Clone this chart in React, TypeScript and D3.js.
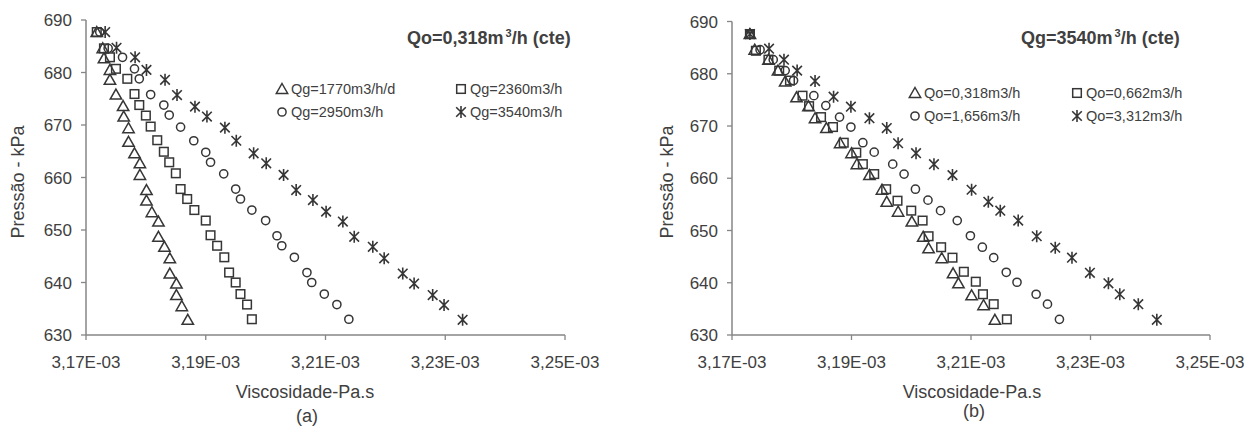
import * as d3 from "d3";
import React from "react";

// viscosity in units of 1e-3 Pa.s, pressure in kPa
const xTicks = [3.17, 3.19, 3.21, 3.23, 3.25];
const yTicks = [630, 640, 650, 660, 670, 680, 690];

// (a) Qo constant
const aQg1770X = [3.1718, 3.1728, 3.173, 3.174, 3.174, 3.175, 3.1762, 3.1763, 3.1771, 3.1771, 3.1781, 3.179, 3.179, 3.1801, 3.1801, 3.181, 3.1821, 3.1821, 3.1831, 3.184, 3.184, 3.1851, 3.1851, 3.186, 3.187];
const aQg1770Y = [687.7, 684.6, 682.7, 680.5, 678.6, 675.8, 673.6, 671.6, 669.4, 666.8, 664.6, 662.7, 660.5, 657.6, 655.6, 653.4, 651.6, 648.7, 646.8, 644.6, 641.7, 639.8, 637.6, 635.5, 632.9];
const aQg2360X = [3.1718, 3.173, 3.174, 3.175, 3.1769, 3.1781, 3.1789, 3.18, 3.1808, 3.1819, 3.183, 3.1839, 3.185, 3.1858, 3.1869, 3.1881, 3.19, 3.1908, 3.1919, 3.1931, 3.1939, 3.195, 3.1958, 3.1969, 3.1977];
const aQg2360Y = [687.7, 684.6, 682.9, 680.7, 678.8, 675.9, 673.8, 671.8, 669.7, 667.1, 664.9, 662.9, 660.8, 657.8, 655.9, 653.8, 651.8, 649.0, 647.0, 644.8, 641.9, 640.0, 637.8, 635.8, 633.0];
const aQg2950X = [3.1723, 3.1737, 3.1761, 3.1781, 3.1789, 3.1808, 3.183, 3.1839, 3.1858, 3.188, 3.19, 3.1908, 3.193, 3.195, 3.1958, 3.1977, 3.2, 3.2019, 3.2027, 3.2048, 3.2069, 3.2077, 3.2098, 3.2119, 3.2139];
const aQg2950Y = [687.7, 684.6, 682.9, 680.7, 678.8, 675.8, 673.8, 671.9, 669.6, 667.0, 664.8, 662.9, 660.7, 657.8, 655.9, 653.8, 651.8, 648.9, 647.0, 644.8, 641.9, 640.0, 637.8, 635.8, 633.0];
const aQg3540X = [3.1732, 3.1751, 3.1782, 3.1801, 3.1832, 3.1852, 3.1882, 3.1902, 3.1932, 3.1951, 3.198, 3.2001, 3.203, 3.2051, 3.2079, 3.2101, 3.2129, 3.2148, 3.2179, 3.2198, 3.2229, 3.2248, 3.2279, 3.2298, 3.2329];
const aQg3540Y = [687.7, 684.7, 682.9, 680.5, 678.6, 675.7, 673.5, 671.6, 669.5, 667.0, 664.6, 662.7, 660.5, 657.6, 655.7, 653.5, 651.6, 648.7, 646.8, 644.6, 641.7, 639.8, 637.6, 635.7, 632.9];

// (b) Qg constant
const bQo0318X = [3.173, 3.1738, 3.1761, 3.1777, 3.1789, 3.1808, 3.1828, 3.1839, 3.1858, 3.1881, 3.19, 3.1909, 3.193, 3.1951, 3.1959, 3.1978, 3.2001, 3.202, 3.2029, 3.2051, 3.207, 3.2079, 3.2101, 3.2121, 3.214];
const bQo0318Y = [687.6, 684.6, 682.7, 680.6, 678.5, 675.5, 673.8, 671.5, 669.6, 666.7, 664.8, 662.7, 660.6, 657.8, 655.5, 653.6, 651.7, 648.8, 646.6, 644.7, 641.8, 639.9, 637.6, 635.7, 632.9];
const bQo0662X = [3.173, 3.174, 3.1761, 3.1779, 3.1797, 3.1818, 3.1829, 3.1849, 3.1869, 3.1887, 3.1908, 3.1919, 3.1938, 3.1958, 3.1977, 3.2, 3.2019, 3.2029, 3.205, 3.2069, 3.2088, 3.2108, 3.212, 3.2138, 3.216];
const bQo0662Y = [687.6, 684.4, 682.7, 680.6, 678.7, 675.8, 673.8, 671.7, 669.8, 666.8, 664.9, 662.7, 660.8, 657.9, 655.7, 653.8, 651.9, 648.9, 646.8, 644.8, 642.1, 640.2, 637.8, 635.9, 633.0];
const bQo1656X = [3.173, 3.1747, 3.1769, 3.1789, 3.1803, 3.1837, 3.1857, 3.188, 3.1899, 3.1919, 3.1938, 3.1969, 3.1988, 3.2007, 3.2028, 3.2049, 3.2077, 3.2099, 3.2119, 3.2138, 3.2159, 3.2177, 3.2209, 3.2228, 3.2248];
const bQo1656Y = [687.6, 684.6, 682.7, 680.6, 678.7, 675.8, 673.9, 671.7, 669.8, 666.8, 665.0, 662.7, 660.8, 657.9, 655.8, 653.8, 651.9, 649.0, 646.8, 644.8, 642.0, 640.1, 637.8, 635.9, 633.0];
const bQo3312X = [3.173, 3.1762, 3.1787, 3.1809, 3.1839, 3.187, 3.1899, 3.193, 3.1959, 3.1978, 3.2008, 3.2038, 3.2069, 3.2101, 3.2129, 3.2149, 3.2179, 3.221, 3.2241, 3.2269, 3.2299, 3.233, 3.2349, 3.238, 3.2411];
const bQo3312Y = [687.6, 684.8, 682.7, 680.6, 678.6, 675.6, 673.7, 671.5, 669.6, 666.7, 664.8, 662.7, 660.6, 657.8, 655.5, 653.8, 651.9, 648.9, 646.7, 644.8, 641.9, 639.9, 637.8, 635.9, 632.9];

const aLabels = ["Qg=1770m3/h/d", "Qg=2360m3/h", "Qg=2950m3/h", "Qg=3540m3/h"];
const bLabels = ["Qo=0,318m3/h", "Qo=0,662m3/h", "Qo=1,656m3/h", "Qo=3,312m3/h"];

const ink = "#363636";
const axisColor = "#868686";
const textColor = "#404040";
const font = "Arial, 'Liberation Sans', sans-serif";

function Marker({ kind, x, y }) {
  if (kind === "tri")
    return <path d={`M${x},${y - 5.5}L${x + 5.7},${y + 4.5}L${x - 5.7},${y + 4.5}Z`} fill="none" stroke={ink} strokeWidth={1.5} />;
  if (kind === "sq")
    return <rect x={x - 4.3} y={y - 4.3} width={8.6} height={8.6} fill="none" stroke={ink} strokeWidth={1.5} />;
  if (kind === "circ")
    return <circle cx={x} cy={y} r={4.1} fill="none" stroke={ink} strokeWidth={1.5} />;
  return (
    <path
      d={`M${x - 4.8},${y - 4.8}L${x + 4.8},${y + 4.8}M${x - 4.8},${y + 4.8}L${x + 4.8},${y - 4.8}M${x},${y - 6}L${x},${y + 6}`}
      fill="none"
      stroke={ink}
      strokeWidth={1.6}
    />
  );
}

const kinds = ["tri", "sq", "circ", "star"];

function Panel({ left, right, top, bottom, series, labels, title, caption, legend, titlePos, titleX, yTitleX, captionY }) {
  const x = d3.scaleLinear().domain([3.17, 3.25]).range([left, right]);
  const y = d3.scaleLinear().domain([630, 690]).range([bottom, top]);
  const fmt = (v) => v.toFixed(2).replace(".", ",") + "E-03";
  return (
    <g fontFamily={font} fill={textColor}>
      <line x1={left} x2={left} y1={y(690)} y2={y(630)} stroke={axisColor} strokeWidth={1.5} />
      <line x1={left} x2={right} y1={y(630)} y2={y(630)} stroke={axisColor} strokeWidth={1.5} />
      {yTicks.map((t) => (
        <g key={t}>
          <line x1={left - 5} x2={left} y1={y(t)} y2={y(t)} stroke={axisColor} strokeWidth={1.3} />
          <text x={left - 14} y={y(t)} dy="0.36em" textAnchor="end" fontSize={17}>{t}</text>
        </g>
      ))}
      {xTicks.map((t) => (
        <g key={t}>
          <line x1={x(t)} x2={x(t)} y1={y(630)} y2={y(630) + 5} stroke={axisColor} strokeWidth={1.3} />
          <text x={x(t)} y={y(630) + 27} dy="0.36em" textAnchor="middle" fontSize={17}>{fmt(t)}</text>
        </g>
      ))}
      <text transform={`translate(${yTitleX},182) rotate(-90)`} textAnchor="middle" fontSize={18} dy="0.36em">
        Pressão - kPa
      </text>
      <text x={titleX} y={392} dy="0.36em" textAnchor="middle" fontSize={18}>Viscosidade-Pa.s</text>
      <text x={titleX + 2} y={captionY} dy="0.36em" textAnchor="middle" fontSize={18}>{caption}</text>
      <text x={titlePos[0]} y={titlePos[1]} fontSize={18} fontWeight="bold">
        {title[0]}<tspan dx="2" dy="-7" fontSize={11}>3</tspan><tspan dy="7">{title[1]}</tspan>
      </text>
      {labels.map((l, i) => {
        const lx = legend[0] + (i % 2) * legend[2];
        const ly = legend[1] + Math.floor(i / 2) * 23;
        return (
          <g key={l}>
            <Marker kind={kinds[i]} x={lx} y={ly} />
            <text x={lx + 9} y={ly} dy="0.36em" fontSize={14.5}>{l}</text>
          </g>
        );
      })}
      {series.map((s, i) => (
        <g key={i}>
          {s[0].map((v, j) => (
            <Marker key={j} kind={kinds[i]} x={x(v)} y={y(s[1][j])} />
          ))}
        </g>
      ))}
    </g>
  );
}

export default function App() {
  return (
    <svg width={1255} height={428} style={{ position: "absolute", left: 0, top: 0, background: "#fff" }}>
      <rect width={1255} height={428} fill="#fff" />
      <Panel
        left={86}
        right={565}
        top={20}
        bottom={335}
        series={[[aQg1770X, aQg1770Y], [aQg2360X, aQg2360Y], [aQg2950X, aQg2950Y], [aQg3540X, aQg3540Y]]}
        labels={aLabels}
        title={["Qo=0,318m", "/h (cte)"]}
        caption="(a)"
        legend={[282, 89, 179]}
        titlePos={[407, 44]}
        titleX={305}
        yTitleX={18}
        captionY={416}
      />
      <Panel
        left={732}
        right={1210}
        top={21.5}
        bottom={335}
        series={[[bQo0318X, bQo0318Y], [bQo0662X, bQo0662Y], [bQo1656X, bQo1656Y], [bQo3312X, bQo3312Y]]}
        labels={bLabels}
        title={["Qg=3540m", "/h (cte)"]}
        caption="(b)"
        legend={[915, 93, 162]}
        titlePos={[1021, 44]}
        titleX={972}
        yTitleX={667}
        captionY={411}
      />
    </svg>
  );
}
